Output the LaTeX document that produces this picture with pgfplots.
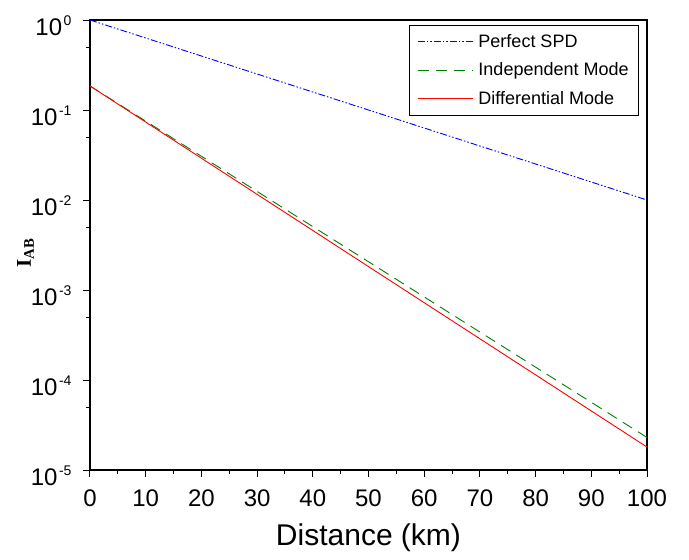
\documentclass[border=0pt]{standalone}
\usepackage{pgfplots}
\pgfplotsset{compat=1.18}
\usepackage{fontspec}
\setmainfont{Liberation Sans}
\newfontfamily\seriffont{Liberation Serif}
\newcommand\pw[1]{10\kern1.5bp\raisebox{10bp}{\fontsize{14bp}{14bp}\selectfont #1}}

\begin{document}
\begin{tikzpicture}
\begin{axis}[
  name=ax,
  scale only axis,
  width=557bp, height=450bp,
  ymode=log,
  xmin=0, xmax=100,
  ymin=1e-5, ymax=1,
  xtick={0,10,...,100},
  minor x tick num=1,
  ytick={1e-5,1e-4,1e-3,1e-2,1e-1,1},
  yticklabels={\pw{-5},\pw{-4},\pw{-3},\pw{-2},\pw{-1},\pw{0}},
  minor ytick={5e-5,5e-4,5e-3,5e-2,5e-1},
  tick align=outside,
  xtick pos=bottom, ytick pos=left,
  major tick length=7bp, minor tick length=4bp,
  tick style={black, line width=1bp},
  axis line style={line width=1.6bp},
  /pgf/number format/assume math mode=true,
  ticklabel style={font=\fontsize{24bp}{24bp}\selectfont},
  xticklabel style={yshift=-9bp},
  yticklabel style={xshift=-8bp, yshift=-6bp},
  xlabel={Distance (km)},
  xlabel style={font=\fontsize{30bp}{30bp}\selectfont, yshift=-10bp},
  ylabel={\seriffont\bfseries I\textsubscript{AB}},
  ylabel style={font=\fontsize{21bp}{21bp}\selectfont, yshift=-10bp, xshift=-8bp},
  legend style={at={(1,1)}, anchor=north east, xshift=-8bp, yshift=-5bp,
    font=\fontsize{18bp}{18bp}\selectfont, draw=black, line width=0.8bp,
    row sep=10bp, inner xsep=8bp, inner ysep=7bp},
  legend cell align=left,
  legend image code/.code={\draw[#1, line width=1bp] (0bp,0bp) -- (55bp,0bp);},
]
\addplot[blue, line width=0.9bp, dash pattern=on 7bp off 2bp on 1.5bp off 2bp on 1.5bp off 2bp]
  coordinates {(0,1) (50,0.1) (100,0.01)};
\addlegendentry{\hspace{3bp}Perfect SPD}
\addplot[green!50!black, line width=0.9bp, dash pattern=on 11bp off 7bp]
  coordinates {(0,0.185) (50,2.06e-3) (100,2.3e-5)};
\addlegendentry{\hspace{3bp}Independent Mode}
\addplot[red, line width=0.9bp]
  coordinates {(0,0.185) (50,1.82e-3) (100,1.8e-5)};
\addlegendentry{\hspace{3bp}Differential Mode}
\end{axis}
\pgfresetboundingbox
\path[use as bounding box] ([shift={(-90bp,-90bp)}]ax.south west) rectangle ([shift={(42bp,20bp)}]ax.north east);
\end{tikzpicture}
\end{document}
